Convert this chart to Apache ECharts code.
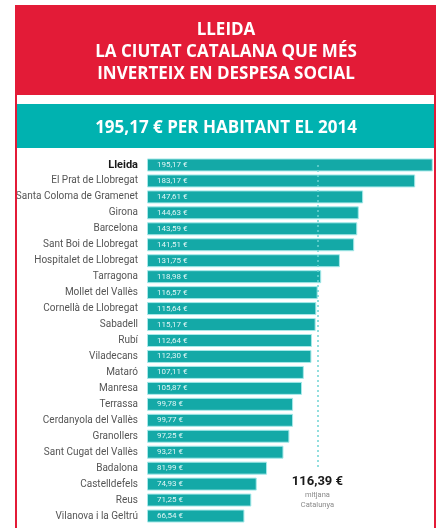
<!DOCTYPE html>
<html>
<head>
<meta charset="utf-8">
<script src="https://cdn.jsdelivr.net/npm/echarts@6/dist/echarts.min.js"></script>
<style>
  html, body { margin: 0; padding: 0; background: #fff; }
  #chart { width: 442px; height: 528px; }
</style>
</head>
<body>
<div id="chart"></div>
<script>
// dades: despesa social per habitant 2014 (euros)
var cities = ['Lleida', 'El Prat de Llobregat', 'Santa Coloma de Gramenet', 'Girona', 'Barcelona',
  'Sant Boi de Llobregat', 'Hospitalet de Llobregat', 'Tarragona', 'Mollet del Vallès',
  'Cornellà de Llobregat', 'Sabadell', 'Rubí', 'Viladecans', 'Mataró', 'Manresa', 'Terrassa',
  'Cerdanyola del Vallès', 'Granollers', 'Sant Cugat del Vallès', 'Badalona', 'Castelldefels',
  'Reus', 'Vilanova i la Geltrú'];
var values = [195.17, 183.17, 147.61, 144.63, 143.59, 141.51, 131.75, 118.98, 116.57, 115.64,
  115.17, 112.64, 112.30, 107.11, 105.87, 99.78, 99.77, 97.25, 93.21, 81.99, 74.93, 71.25, 66.54];
var average = 116.39;
var titleLines = ['LLEIDA', 'LA CIUTAT CATALANA QUE MÉS', 'INVERTEIX EN DESPESA SOCIAL'];
var subtitle = '195,17 € PER HABITANT EL 2014';

var RED = '#e31b37';
var TEAL = '#00b2b0';
var narrow = "Roboto, sans-serif";

function euro(v) {
  return v.toFixed(2).replace('.', ',') + ' €';
}

var chart = echarts.init(document.getElementById('chart'), null, { renderer: 'canvas' });

var option = {
  backgroundColor: '#fff',
  animation: false,
  graphic: [
    // capçalera vermella
    { type: 'rect', shape: { x: 16, y: 5, width: 420, height: 90 }, style: { fill: RED }, z: 0 },
    // franja turquesa
    { type: 'rect', shape: { x: 16, y: 104, width: 420, height: 44 }, style: { fill: TEAL }, z: 0 },
    // vores
    { type: 'rect', shape: { x: 15, y: 5, width: 2, height: 523 }, style: { fill: RED }, z: 1 },
    { type: 'rect', shape: { x: 434, y: 5, width: 2, height: 523 }, style: { fill: RED }, z: 1 },
    {
      type: 'text', x: 226, y: 52, z: 2,
      style: {
        text: titleLines.join('\n'), fill: '#fff', align: 'center', verticalAlign: 'middle',
        font: "bold 17px 'Open Sans', sans-serif", lineHeight: 22
      }
    },
    {
      type: 'text', x: 226, y: 128, z: 2,
      style: {
        text: subtitle, fill: '#fff', align: 'center', verticalAlign: 'middle',
        font: "bold 17px 'Open Sans', sans-serif"
      }
    }
  ],
  grid: { left: 147, right: 8, top: 157, bottom: 4, containLabel: false, outerBoundsMode: 'none' },
  xAxis: {
    type: 'value', min: 0, max: 196,
    show: false
  },
  yAxis: {
    type: 'category', data: cities, inverse: true,
    axisLine: { show: false }, axisTick: { show: false },
    axisLabel: {
      margin: 9, fontFamily: narrow, fontSize: 10, color: '#555',
      formatter: function (v, i) { return i === 0 ? '{b|' + v + '}' : v; },
      rich: { b: { fontFamily: narrow, fontSize: 11, fontWeight: 'bold', color: '#1a1a1a' } }
    }
  },
  series: [{
    type: 'bar',
    data: values,
    barWidth: 13,
    itemStyle: { color: '#14a9a7', borderColor: '#a6e9e9', borderWidth: 1 },
    label: {
      show: true, position: 'insideLeft', distance: 10,
      color: '#dff6f6', fontFamily: narrow, fontSize: 8,
      formatter: function (p) { return euro(p.value); }
    },
    markLine: {
      symbol: 'none', silent: true,
      lineStyle: { color: '#6fd3d3', type: [2, 3], width: 1.5 },
      label: {
        show: true, position: 'end', distance: 6,
        formatter: '{a|' + euro(average) + '}\n{c|mitjana}\n{c|Catalunya}',
        rich: {
          a: { fontFamily: narrow, fontWeight: 'bold', fontSize: 13, color: '#1a1a1a', lineHeight: 16 },
          c: { fontFamily: narrow, fontSize: 7.5, color: '#8a8a8a', lineHeight: 10 }
        }
      },
      data: [[{ coord: [average, cities[0]] }, { coord: [average, cities[19]] }]]
    }
  }]
};

chart.setOption(option);
</script>
</body>
</html>
